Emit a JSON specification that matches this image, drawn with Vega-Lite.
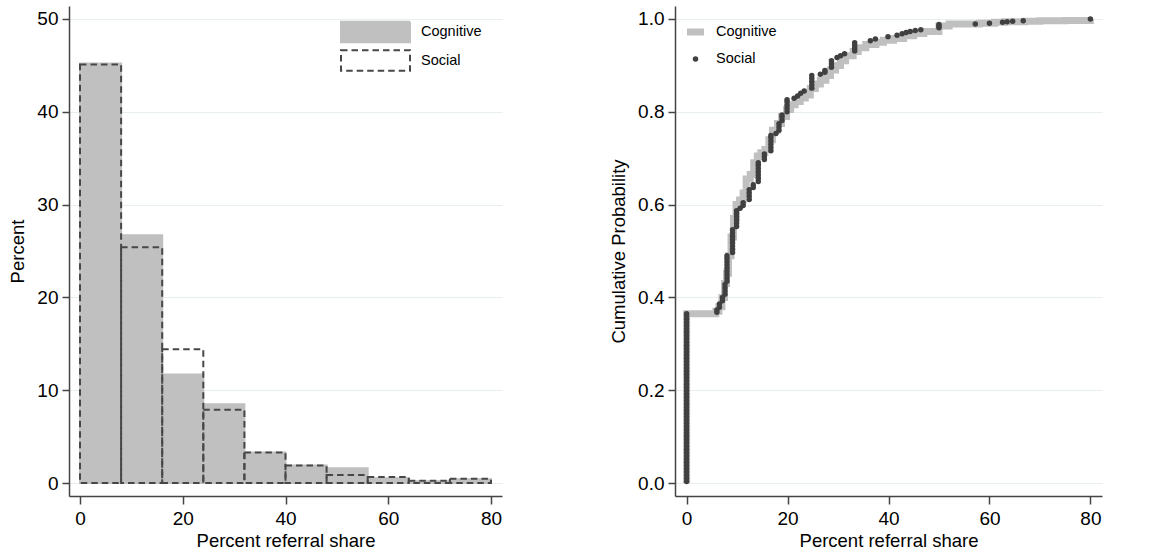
{
  "$schema": "https://vega.github.io/schema/vega-lite/v6.json",
  "padding": {"left": 8, "top": 4, "right": 5, "bottom": 0},
  "spacing": 107,
  "resolve": {
    "scale": {"color": "independent", "fill": "independent", "stroke": "independent", "strokeDash": "independent", "shape": "independent", "size": "independent"},
    "legend": {"color": "independent", "fill": "independent", "stroke": "independent", "strokeDash": "independent", "shape": "independent", "size": "independent"}
  },
  "config": {
    "font": "Liberation Sans",
    "view": {"stroke": null},
    "axis": {
      "labelFont": "Liberation Sans", "titleFont": "Liberation Sans",
      "labelFontSize": 19, "titleFontSize": 18.5, "titleFontWeight": "normal",
      "labelColor": "#000", "titleColor": "#000",
      "domainColor": "#444", "domainWidth": 1.5,
      "tickColor": "#444", "tickWidth": 1.5, "tickSize": 7,
      "gridColor": "#e6eef0", "gridWidth": 1
    },
    "axisX": {"grid": false, "tickSize": 8, "labelPadding": 5, "titlePadding": 3, "labelAngle": 0},
    "axisY": {"grid": true, "labelPadding": 4, "titlePadding": 9},
    "legend": {"labelFont": "Liberation Sans", "labelFontSize": 14.5, "labelColor": "#000", "padding": 0}
  },
  "datasets": {
    "hist": [
      {"g": "Cognitive", "b0": 0, "b1": 8, "pct": 45.2},
      {"g": "Cognitive", "b0": 8, "b1": 16, "pct": 26.7},
      {"g": "Cognitive", "b0": 16, "b1": 24, "pct": 11.7},
      {"g": "Cognitive", "b0": 24, "b1": 32, "pct": 8.5},
      {"g": "Cognitive", "b0": 32, "b1": 40, "pct": 3.3},
      {"g": "Cognitive", "b0": 40, "b1": 48, "pct": 1.9},
      {"g": "Cognitive", "b0": 48, "b1": 56, "pct": 1.6},
      {"g": "Cognitive", "b0": 56, "b1": 64, "pct": 0.5},
      {"g": "Cognitive", "b0": 64, "b1": 72, "pct": 0.2},
      {"g": "Cognitive", "b0": 72, "b1": 80, "pct": 0.4},
      {"g": "Social", "b0": 0, "b1": 8, "pct": 45.1},
      {"g": "Social", "b0": 8, "b1": 16, "pct": 25.4},
      {"g": "Social", "b0": 16, "b1": 24, "pct": 14.4},
      {"g": "Social", "b0": 24, "b1": 32, "pct": 7.9},
      {"g": "Social", "b0": 32, "b1": 40, "pct": 3.3},
      {"g": "Social", "b0": 40, "b1": 48, "pct": 1.9},
      {"g": "Social", "b0": 48, "b1": 56, "pct": 0.85},
      {"g": "Social", "b0": 56, "b1": 64, "pct": 0.65},
      {"g": "Social", "b0": 64, "b1": 72, "pct": 0.25},
      {"g": "Social", "b0": 72, "b1": 80, "pct": 0.45}
    ],
    "cog": [
      {"g": "Cognitive", "x": 0, "p": 0},
      {"g": "Cognitive", "x": 0, "p": 0.365},
      {"g": "Cognitive", "x": 5.8, "p": 0.37},
      {"g": "Cognitive", "x": 6.4, "p": 0.38},
      {"g": "Cognitive", "x": 7, "p": 0.4},
      {"g": "Cognitive", "x": 7.5, "p": 0.43},
      {"g": "Cognitive", "x": 7.9, "p": 0.452},
      {"g": "Cognitive", "x": 8.3, "p": 0.49},
      {"g": "Cognitive", "x": 8.8, "p": 0.53},
      {"g": "Cognitive", "x": 9.3, "p": 0.57},
      {"g": "Cognitive", "x": 9.8, "p": 0.6},
      {"g": "Cognitive", "x": 10.5, "p": 0.61},
      {"g": "Cognitive", "x": 11.2, "p": 0.625},
      {"g": "Cognitive", "x": 11.8, "p": 0.655},
      {"g": "Cognitive", "x": 12.6, "p": 0.665},
      {"g": "Cognitive", "x": 13.3, "p": 0.69},
      {"g": "Cognitive", "x": 14.0, "p": 0.705},
      {"g": "Cognitive", "x": 14.7, "p": 0.712},
      {"g": "Cognitive", "x": 15.5, "p": 0.719},
      {"g": "Cognitive", "x": 16.3, "p": 0.74},
      {"g": "Cognitive", "x": 17, "p": 0.76},
      {"g": "Cognitive", "x": 18, "p": 0.775},
      {"g": "Cognitive", "x": 18.8, "p": 0.79},
      {"g": "Cognitive", "x": 19.8, "p": 0.805},
      {"g": "Cognitive", "x": 20.6, "p": 0.815},
      {"g": "Cognitive", "x": 21.5, "p": 0.822},
      {"g": "Cognitive", "x": 22.5, "p": 0.83},
      {"g": "Cognitive", "x": 23.5, "p": 0.836},
      {"g": "Cognitive", "x": 24.5, "p": 0.85},
      {"g": "Cognitive", "x": 25.5, "p": 0.86},
      {"g": "Cognitive", "x": 26.5, "p": 0.868},
      {"g": "Cognitive", "x": 27.6, "p": 0.878},
      {"g": "Cognitive", "x": 28.5, "p": 0.89},
      {"g": "Cognitive", "x": 29.5, "p": 0.9},
      {"g": "Cognitive", "x": 30.5, "p": 0.91},
      {"g": "Cognitive", "x": 31.5, "p": 0.921},
      {"g": "Cognitive", "x": 33, "p": 0.93},
      {"g": "Cognitive", "x": 34, "p": 0.938},
      {"g": "Cognitive", "x": 35.5, "p": 0.945},
      {"g": "Cognitive", "x": 37.5, "p": 0.95},
      {"g": "Cognitive", "x": 39, "p": 0.954},
      {"g": "Cognitive", "x": 41, "p": 0.958},
      {"g": "Cognitive", "x": 43, "p": 0.964},
      {"g": "Cognitive", "x": 45, "p": 0.969},
      {"g": "Cognitive", "x": 47, "p": 0.973},
      {"g": "Cognitive", "x": 50, "p": 0.985},
      {"g": "Cognitive", "x": 52, "p": 0.989},
      {"g": "Cognitive", "x": 58, "p": 0.991},
      {"g": "Cognitive", "x": 61, "p": 0.993},
      {"g": "Cognitive", "x": 63, "p": 0.994},
      {"g": "Cognitive", "x": 67, "p": 0.995},
      {"g": "Cognitive", "x": 70, "p": 0.996},
      {"g": "Cognitive", "x": 75, "p": 0.997},
      {"g": "Cognitive", "x": 80, "p": 1.0}
    ],
    "soc": [
      {"g": "Social", "x": 0, "p": 0.003}, {"g": "Social", "x": 0, "p": 0.010}, {"g": "Social", "x": 0, "p": 0.017},
      {"g": "Social", "x": 0, "p": 0.024}, {"g": "Social", "x": 0, "p": 0.031}, {"g": "Social", "x": 0, "p": 0.038},
      {"g": "Social", "x": 0, "p": 0.045}, {"g": "Social", "x": 0, "p": 0.052}, {"g": "Social", "x": 0, "p": 0.059},
      {"g": "Social", "x": 0, "p": 0.066}, {"g": "Social", "x": 0, "p": 0.073}, {"g": "Social", "x": 0, "p": 0.080},
      {"g": "Social", "x": 0, "p": 0.087}, {"g": "Social", "x": 0, "p": 0.094}, {"g": "Social", "x": 0, "p": 0.101},
      {"g": "Social", "x": 0, "p": 0.108}, {"g": "Social", "x": 0, "p": 0.115}, {"g": "Social", "x": 0, "p": 0.122},
      {"g": "Social", "x": 0, "p": 0.129}, {"g": "Social", "x": 0, "p": 0.136}, {"g": "Social", "x": 0, "p": 0.143},
      {"g": "Social", "x": 0, "p": 0.150}, {"g": "Social", "x": 0, "p": 0.157}, {"g": "Social", "x": 0, "p": 0.164},
      {"g": "Social", "x": 0, "p": 0.171}, {"g": "Social", "x": 0, "p": 0.178}, {"g": "Social", "x": 0, "p": 0.185},
      {"g": "Social", "x": 0, "p": 0.192}, {"g": "Social", "x": 0, "p": 0.199}, {"g": "Social", "x": 0, "p": 0.206},
      {"g": "Social", "x": 0, "p": 0.213}, {"g": "Social", "x": 0, "p": 0.220}, {"g": "Social", "x": 0, "p": 0.227},
      {"g": "Social", "x": 0, "p": 0.234}, {"g": "Social", "x": 0, "p": 0.241}, {"g": "Social", "x": 0, "p": 0.248},
      {"g": "Social", "x": 0, "p": 0.255}, {"g": "Social", "x": 0, "p": 0.262}, {"g": "Social", "x": 0, "p": 0.269},
      {"g": "Social", "x": 0, "p": 0.276}, {"g": "Social", "x": 0, "p": 0.283}, {"g": "Social", "x": 0, "p": 0.290},
      {"g": "Social", "x": 0, "p": 0.297}, {"g": "Social", "x": 0, "p": 0.304}, {"g": "Social", "x": 0, "p": 0.311},
      {"g": "Social", "x": 0, "p": 0.318}, {"g": "Social", "x": 0, "p": 0.325}, {"g": "Social", "x": 0, "p": 0.332},
      {"g": "Social", "x": 0, "p": 0.339}, {"g": "Social", "x": 0, "p": 0.346}, {"g": "Social", "x": 0, "p": 0.353},
      {"g": "Social", "x": 0, "p": 0.360}, {"g": "Social", "x": 0, "p": 0.365},
      {"g": "Social", "x": 6.0, "p": 0.368}, {"g": "Social", "x": 6.0, "p": 0.373},
      {"g": "Social", "x": 6.5, "p": 0.379}, {"g": "Social", "x": 6.5, "p": 0.386},
      {"g": "Social", "x": 7.1, "p": 0.393}, {"g": "Social", "x": 7.1, "p": 0.400},
      {"g": "Social", "x": 7.6, "p": 0.407}, {"g": "Social", "x": 7.6, "p": 0.414}, {"g": "Social", "x": 7.6, "p": 0.421}, {"g": "Social", "x": 7.6, "p": 0.428},
      {"g": "Social", "x": 8.0, "p": 0.435}, {"g": "Social", "x": 8.0, "p": 0.442}, {"g": "Social", "x": 8.0, "p": 0.449},
      {"g": "Social", "x": 8.0, "p": 0.456}, {"g": "Social", "x": 8.0, "p": 0.463}, {"g": "Social", "x": 8.0, "p": 0.470},
      {"g": "Social", "x": 8.0, "p": 0.477}, {"g": "Social", "x": 8.0, "p": 0.484}, {"g": "Social", "x": 8.0, "p": 0.490},
      {"g": "Social", "x": 9.1, "p": 0.497}, {"g": "Social", "x": 9.1, "p": 0.504}, {"g": "Social", "x": 9.1, "p": 0.511},
      {"g": "Social", "x": 9.1, "p": 0.518}, {"g": "Social", "x": 9.1, "p": 0.525}, {"g": "Social", "x": 9.1, "p": 0.532},
      {"g": "Social", "x": 9.1, "p": 0.539}, {"g": "Social", "x": 9.1, "p": 0.546},
      {"g": "Social", "x": 9.9, "p": 0.553}, {"g": "Social", "x": 9.9, "p": 0.560}, {"g": "Social", "x": 9.9, "p": 0.567},
      {"g": "Social", "x": 9.9, "p": 0.574}, {"g": "Social", "x": 9.9, "p": 0.581}, {"g": "Social", "x": 9.9, "p": 0.587},
      {"g": "Social", "x": 10.6, "p": 0.592},
      {"g": "Social", "x": 11.2, "p": 0.598}, {"g": "Social", "x": 11.2, "p": 0.604},
      {"g": "Social", "x": 12.4, "p": 0.611}, {"g": "Social", "x": 12.4, "p": 0.618}, {"g": "Social", "x": 12.4, "p": 0.625}, {"g": "Social", "x": 12.4, "p": 0.632},
      {"g": "Social", "x": 13.2, "p": 0.637}, {"g": "Social", "x": 13.2, "p": 0.643},
      {"g": "Social", "x": 14.2, "p": 0.650}, {"g": "Social", "x": 14.2, "p": 0.657}, {"g": "Social", "x": 14.2, "p": 0.664},
      {"g": "Social", "x": 14.2, "p": 0.671}, {"g": "Social", "x": 14.2, "p": 0.678}, {"g": "Social", "x": 14.2, "p": 0.685},
      {"g": "Social", "x": 14.2, "p": 0.690},
      {"g": "Social", "x": 15.4, "p": 0.697}, {"g": "Social", "x": 15.4, "p": 0.703}, {"g": "Social", "x": 15.4, "p": 0.709},
      {"g": "Social", "x": 16.7, "p": 0.716}, {"g": "Social", "x": 16.7, "p": 0.723}, {"g": "Social", "x": 16.7, "p": 0.730},
      {"g": "Social", "x": 16.7, "p": 0.737}, {"g": "Social", "x": 16.7, "p": 0.744}, {"g": "Social", "x": 16.7, "p": 0.749},
      {"g": "Social", "x": 17.7, "p": 0.753},
      {"g": "Social", "x": 18.3, "p": 0.760}, {"g": "Social", "x": 18.3, "p": 0.767}, {"g": "Social", "x": 18.3, "p": 0.774},
      {"g": "Social", "x": 18.9, "p": 0.781}, {"g": "Social", "x": 18.9, "p": 0.788}, {"g": "Social", "x": 18.9, "p": 0.793},
      {"g": "Social", "x": 19.9, "p": 0.800}, {"g": "Social", "x": 19.9, "p": 0.807}, {"g": "Social", "x": 19.9, "p": 0.814},
      {"g": "Social", "x": 19.9, "p": 0.821}, {"g": "Social", "x": 19.9, "p": 0.826},
      {"g": "Social", "x": 21.3, "p": 0.829}, {"g": "Social", "x": 22.0, "p": 0.834}, {"g": "Social", "x": 22.6, "p": 0.840}, {"g": "Social", "x": 23.3, "p": 0.845},
      {"g": "Social", "x": 24.8, "p": 0.851}, {"g": "Social", "x": 24.8, "p": 0.858}, {"g": "Social", "x": 24.8, "p": 0.865},
      {"g": "Social", "x": 24.8, "p": 0.872}, {"g": "Social", "x": 24.8, "p": 0.878},
      {"g": "Social", "x": 26.5, "p": 0.881}, {"g": "Social", "x": 27.4, "p": 0.885}, {"g": "Social", "x": 27.4, "p": 0.889},
      {"g": "Social", "x": 28.7, "p": 0.896}, {"g": "Social", "x": 28.7, "p": 0.903}, {"g": "Social", "x": 28.7, "p": 0.910},
      {"g": "Social", "x": 29.8, "p": 0.917}, {"g": "Social", "x": 30.5, "p": 0.921}, {"g": "Social", "x": 31.3, "p": 0.925},
      {"g": "Social", "x": 33.3, "p": 0.931}, {"g": "Social", "x": 33.3, "p": 0.937}, {"g": "Social", "x": 33.3, "p": 0.943}, {"g": "Social", "x": 33.3, "p": 0.949},
      {"g": "Social", "x": 36.4, "p": 0.953}, {"g": "Social", "x": 37.4, "p": 0.957}, {"g": "Social", "x": 39.9, "p": 0.962},
      {"g": "Social", "x": 41.7, "p": 0.965}, {"g": "Social", "x": 42.7, "p": 0.968}, {"g": "Social", "x": 43.5, "p": 0.971},
      {"g": "Social", "x": 44.3, "p": 0.973}, {"g": "Social", "x": 45.3, "p": 0.975}, {"g": "Social", "x": 46.4, "p": 0.977},
      {"g": "Social", "x": 50.0, "p": 0.981}, {"g": "Social", "x": 50.0, "p": 0.985}, {"g": "Social", "x": 50.0, "p": 0.988},
      {"g": "Social", "x": 57.2, "p": 0.989}, {"g": "Social", "x": 60.0, "p": 0.991}, {"g": "Social", "x": 62.6, "p": 0.993},
      {"g": "Social", "x": 63.5, "p": 0.994}, {"g": "Social", "x": 64.6, "p": 0.995}, {"g": "Social", "x": 66.7, "p": 0.996},
      {"g": "Social", "x": 80.0, "p": 1.0}
    ]
  },
  "hconcat": [
    {
      "width": 433,
      "height": 490,
      "data": {"name": "hist"},
      "mark": {"type": "bar", "strokeWidth": 2},
      "encoding": {
        "x": {"field": "b0", "type": "quantitative", "scale": {"domain": [-2.14, 82.14], "nice": false, "zero": false}, "axis": {"values": [0, 20, 40, 60, 80], "title": "Percent referral share"}},
        "x2": {"field": "b1"},
        "y": {"field": "pct", "type": "quantitative", "stack": null, "scale": {"domain": [-1.4, 51.4], "nice": false}, "axis": {"values": [0, 10, 20, 30, 40, 50], "title": "Percent"}},
        "y2": {"datum": 0},
        "fill": {
          "field": "g", "type": "nominal",
          "scale": {"domain": ["Cognitive", "Social"], "range": ["#c0c0c0", "transparent"]},
          "legend": {
            "title": null, "orient": "none", "legendX": 271, "legendY": 14,
            "symbolType": "M-1,-0.3H1V0.3H-1Z", "symbolSize": 4761, "clipHeight": 24,
            "rowPadding": 4.5, "labelOffset": 10, "symbolStrokeWidth": 2,
            "encode": {"symbols": {"update": {
              "fill": {"value": {"expr": "datum.value === 'Social' ? 'transparent' : '#c0c0c0'"}},
              "stroke": {"value": {"expr": "datum.value === 'Social' ? '#474747' : '#c0c0c0'"}},
              "strokeDash": {"value": {"expr": "datum.value === 'Social' ? [6.5, 4] : [1, 0]"}},
              "strokeWidth": {"value": 2},
              "opacity": {"value": 1}
            }}}
          }
        },
        "stroke": {"field": "g", "type": "nominal", "scale": {"domain": ["Cognitive", "Social"], "range": ["#c0c0c0", "#474747"]}, "legend": null},
        "strokeDash": {"field": "g", "type": "nominal", "scale": {"domain": ["Cognitive", "Social"], "range": [[1, 0], [6.5, 4]]}, "legend": null}
      }
    },
    {
      "width": 427,
      "height": 490,
      "encoding": {
        "x": {"field": "x", "type": "quantitative", "scale": {"domain": [-2.3, 82.3], "nice": false, "zero": false}, "axis": {"values": [0, 20, 40, 60, 80], "title": "Percent referral share"}},
        "y": {"field": "p", "type": "quantitative", "scale": {"domain": [-0.028, 1.028], "nice": false}, "axis": {"values": [0, 0.2, 0.4, 0.6, 0.8, 1.0], "format": ".1f", "title": "Cumulative Probability"}}
      },
      "layer": [
        {
          "data": {"name": "cog"},
          "mark": {"type": "line", "interpolate": "step-after", "strokeWidth": 7, "strokeCap": "butt", "strokeJoin": "miter", "stroke": "#c0c0c0"},
          "encoding": {
            "order": {"value": null}
          }
        },
        {
          "data": {"name": "soc"},
          "mark": {"type": "point", "filled": true, "opacity": 1},
          "encoding": {
            "color": {
              "field": "g", "type": "nominal",
              "scale": {"domain": ["Cognitive", "Social"], "range": ["#c0c0c0", "#404040"]},
              "legend": {
                "title": null, "orient": "none", "legendX": 11, "legendY": 16,
                "clipHeight": 20, "rowPadding": 7, "labelOffset": 11,
                "encode": {"symbols": {"update": {
                  "stroke": {"value": "transparent"},
                  "strokeWidth": {"value": 0},
                  "opacity": {"value": 1}
                }}}
              }
            },
            "shape": {
              "field": "g", "type": "nominal",
              "scale": {"domain": ["Cognitive", "Social"], "range": ["M-1,-0.4H1V0.4H-1Z", "circle"]},
              "legend": {
                "title": null, "orient": "none", "legendX": 11, "legendY": 16,
                "clipHeight": 20, "rowPadding": 7, "labelOffset": 11,
                "encode": {"symbols": {"update": {
                  "stroke": {"value": "transparent"},
                  "strokeWidth": {"value": 0},
                  "opacity": {"value": 1}
                }}}
              }
            },
            "size": {
              "field": "g", "type": "nominal",
              "scale": {"domain": ["Cognitive", "Social"], "range": [290, 30]},
              "legend": {
                "title": null, "orient": "none", "legendX": 11, "legendY": 16,
                "clipHeight": 20, "rowPadding": 7, "labelOffset": 11,
                "encode": {"symbols": {"update": {
                  "stroke": {"value": "transparent"},
                  "strokeWidth": {"value": 0},
                  "opacity": {"value": 1}
                }}}
              }
            }
          }
        }
      ]
    }
  ]
}
